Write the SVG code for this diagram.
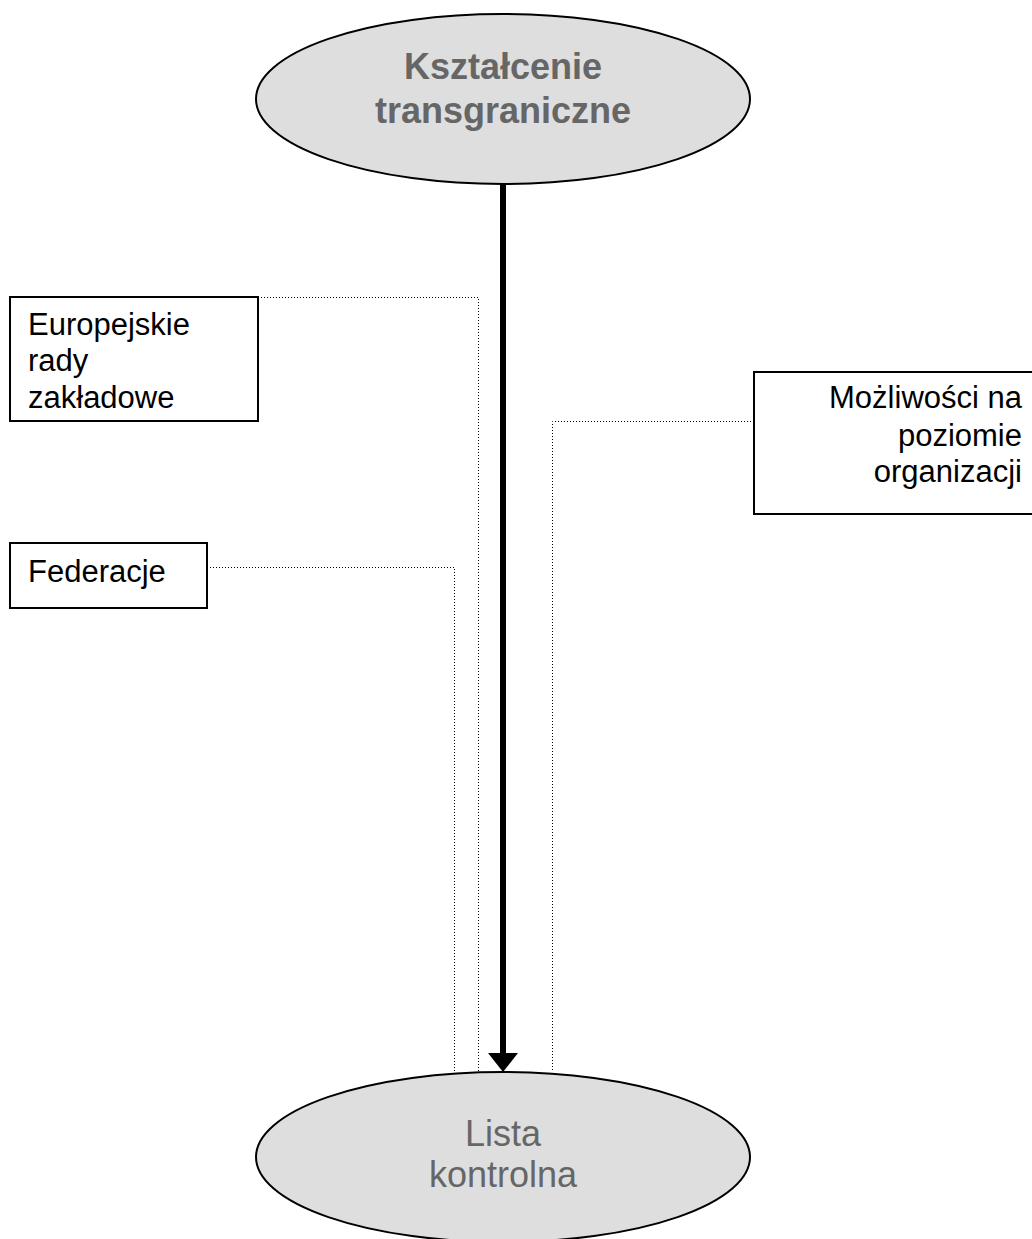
<svg xmlns="http://www.w3.org/2000/svg" width="1032" height="1239" viewBox="0 0 1032 1239">
<style>
.ell{fill:#dedede;stroke:#000;stroke-width:2}
.box{fill:#fff;stroke:#000;stroke-width:2}
.et{font-family:"Liberation Sans",Arial,sans-serif;font-size:36px;fill:#666;text-anchor:middle}
.bt{font-family:"Liberation Sans",Arial,sans-serif;font-size:31px;fill:#000}
.dot{fill:none;stroke:#000;stroke-width:1;stroke-dasharray:1 2}
</style>
<defs>
<marker id="ah" viewBox="0 0 19 30" refX="0" refY="15" markerWidth="19" markerHeight="30" markerUnits="userSpaceOnUse" orient="auto">
<path d="M0,0 L19,15 L0,30 Z" fill="#000"/>
</marker>
</defs>
<g id="connectors">
<polyline class="dot" points="258,297.5 478.5,297.5 478.5,1072"/>
<polyline class="dot" points="207,567.5 454.5,567.5 454.5,1072"/>
<polyline class="dot" points="754,421.5 552.5,421.5 552.5,1072"/>
<line x1="503" y1="185" x2="503" y2="1053" stroke="#000" stroke-width="6" marker-end="url(#ah)"/>
</g>
<g id="node-top">
<ellipse class="ell" cx="503" cy="99" rx="247" ry="85"/>
<text class="et" font-weight="bold" x="503" y="79">Kształcenie</text>
<text class="et" font-weight="bold" x="503" y="123">transgraniczne</text>
</g>
<g id="node-bottom">
<ellipse class="ell" cx="503" cy="1157" rx="247" ry="85"/>
<text class="et" x="503" y="1146">Lista</text>
<text class="et" x="503" y="1187">kontrolna</text>
</g>
<g id="node-erz">
<rect class="box" x="10" y="297" width="248" height="124"/>
<text class="bt" x="28" y="335">Europejskie</text>
<text class="bt" x="28" y="371">rady</text>
<text class="bt" x="28" y="408">zakładowe</text>
</g>
<g id="node-fed">
<rect class="box" x="10" y="543" width="197" height="65"/>
<text class="bt" x="28" y="582">Federacje</text>
</g>
<g id="node-org">
<rect class="box" x="754" y="372" width="290" height="142"/>
<text class="bt" x="1022" y="408" text-anchor="end">Możliwości na</text>
<text class="bt" x="1022" y="446" text-anchor="end">poziomie</text>
<text class="bt" x="1022" y="482" text-anchor="end">organizacji</text>
</g>
</svg>
